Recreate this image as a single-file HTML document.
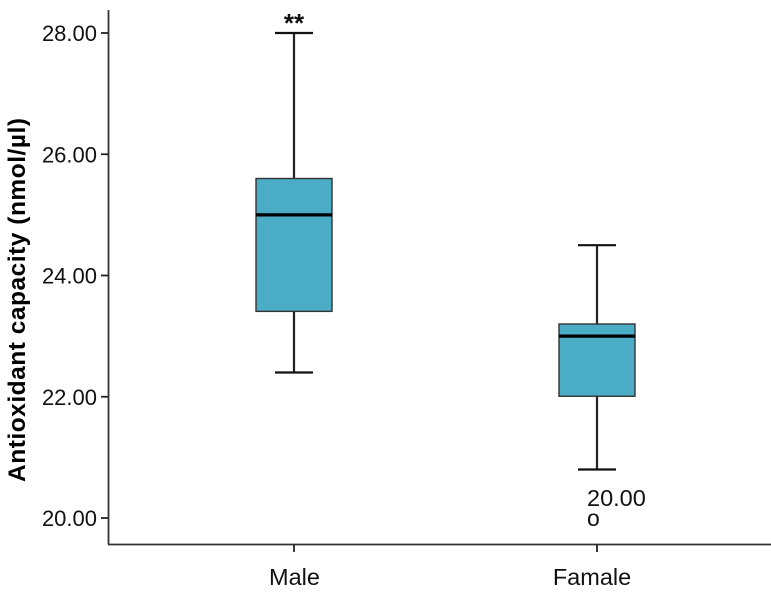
<!DOCTYPE html>
<html>
<head>
<meta charset="utf-8">
<style>
html,body{margin:0;padding:0;background:#fff;}
svg{display:block;}
text{font-family:"Liberation Sans",Arial,sans-serif;fill:#111;}
</style>
</head>
<body>
<svg id="chart" width="771" height="616" viewBox="0 0 771 616" xmlns="http://www.w3.org/2000/svg">
<text transform="translate(25,300) rotate(-90)" text-anchor="middle" font-size="24.5" font-weight="bold" textLength="364" lengthAdjust="spacing" style="fill:#000">Antioxidant capacity (nmol/µl)</text>
</svg>
<script>
const categories = ['Male', 'Famale'];
const whiskerLow = [22.4, 20.8];
const q1 = [23.4, 22.0];
const median = [25.0, 23.0];
const q3 = [25.6, 23.2];
const whiskerHigh = [28.0, 24.5];
const outlierValues = [null, 20.0];
const outlierLabels = [null, '20.00'];
const significance = ['**', null];
const yTicks = [20, 22, 24, 26, 28];
const yTickLabels = ['20.00', '22.00', '24.00', '26.00', '28.00'];

const svg = document.getElementById('chart');
const NS = 'http://www.w3.org/2000/svg';
const yScale = v => 518 - (v - 20) * 60.625;
const xScale = i => 294 + i * 303;
function make(tag, attrs, parent) {
  const el = document.createElementNS(NS, tag);
  for (const k in attrs) el.setAttribute(k, attrs[k]);
  (parent || svg).appendChild(el);
  return el;
}
function line(x1, y1, x2, y2, color, w, parent) {
  return make('line', {x1, y1, x2, y2, stroke: color, 'stroke-width': w}, parent);
}

const yAxis = line(108.5, 10, 108.5, 544.5, '#333', 1.8);


const xAxis = line(108, 544.5, 771, 544.5, '#333', 1.8);



yTicks.forEach((t, i) => {
  const tick = line(101, yScale(t), 108.5, yScale(t), '#222', 1.8);
  
  
  const label = make('text', {x: 97, y: yScale(t) + 8, 'text-anchor': 'end', 'font-size': 22});
  
  
  label.textContent = yTickLabels[i];
});

categories.forEach((c, i) => {
  const x = xScale(i);
  const tick = line(x, 544.5, x, 552, '#222', 1.8);
  
  
  const label = make('text', {x: x - i * 5.5 + 0.5, y: 585, 'text-anchor': 'middle', 'font-size': 23.5});
  
  
  label.textContent = c;

  const g = make('g', {});
  
  
  const stem = line(x, yScale(whiskerLow[i]), x, yScale(whiskerHigh[i]), '#222', 2.2, g);
  
  
  const capTop = line(x - 19, yScale(whiskerHigh[i]), x + 19, yScale(whiskerHigh[i]), '#111', 2.2, g);
  
  
  const capLow = line(x - 19, yScale(whiskerLow[i]), x + 19, yScale(whiskerLow[i]), '#111', 2.2, g);
  
  
  const box = make('rect', {x: x - 38, y: yScale(q3[i]), width: 76, height: yScale(q1[i]) - yScale(q3[i]) - 0.5, fill: '#4bacc6', stroke: '#333', 'stroke-width': 1.4}, g);
  
  
  const med = line(x - 38, yScale(median[i]), x + 38, yScale(median[i]), '#000', 3.2, g);
  
  

  if (outlierValues[i] !== null) {
    const o = make('text', {x: x - 10, y: yScale(outlierValues[i]) + 8, 'font-size': 23});
    
    
    o.textContent = 'o';
    const ol = make('text', {x: x - 10, y: yScale(outlierValues[i]) - 12, 'font-size': 23.5});
    
    
    ol.textContent = outlierLabels[i];
  }
  if (significance[i]) {
    const s = make('text', {x: x, y: yScale(whiskerHigh[i]) - 1, 'text-anchor': 'middle', 'font-size': 26, 'font-weight': 'bold'});
    
    
    s.textContent = significance[i];
  }
});
</script>
</body>
</html>
